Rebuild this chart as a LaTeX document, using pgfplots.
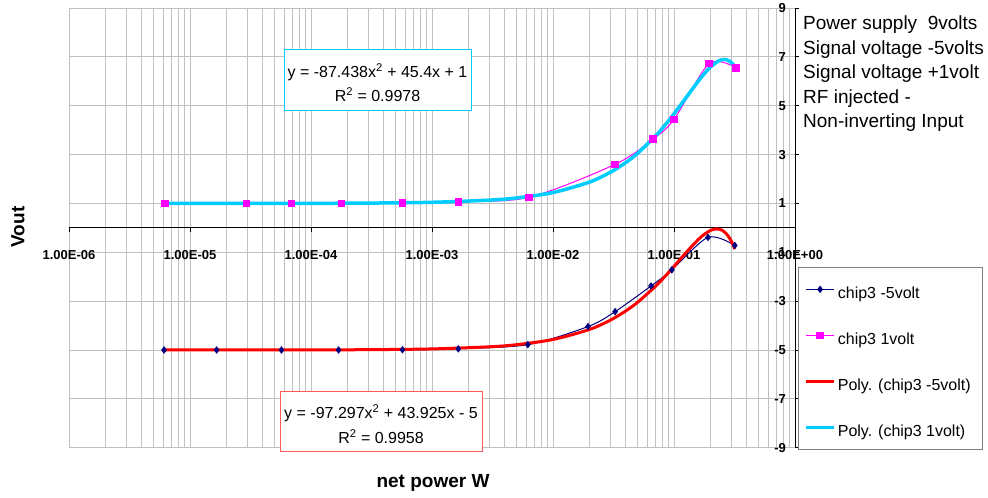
\documentclass[border=0pt]{standalone}
\usepackage{pgfplots}
\pgfplotsset{compat=1.18}
\usepackage{fontspec}
\setmainfont{Liberation Sans}
\definecolor{navyc}{RGB}{0,0,128}
\definecolor{magc}{RGB}{255,0,255}
\definecolor{cyanc}{RGB}{0,204,255}
\definecolor{gridc}{RGB}{192,192,192}
\definecolor{legc}{RGB}{128,128,128}
\definecolor{redbox}{RGB}{255,90,90}
\begin{document}
\begin{tikzpicture}
\useasboundingbox (-69pt,-50.3pt) rectangle (919pt,447.7pt);
\begin{axis}[
  at={(0pt,0pt)}, anchor=south west,
  scale only axis, width=726pt, height=439.7pt,
  xmode=log, xmin=1e-6, xmax=1, ymin=-9, ymax=9,
  axis x line=middle, axis y line=right,
  axis line style={-, black, line width=0.8pt},
  hide obscured x ticks=false, hide obscured y ticks=false,
  xtick={1e-6,1e-5,1e-4,1e-3,1e-2,1e-1,1},
  xticklabels={1.00E-06,1.00E-05,1.00E-04,1.00E-03,1.00E-02,1.00E-01,1.00E+00},
  minor xtick={2e-6,3e-6,4e-6,5e-6,6e-6,7e-6,8e-6,9e-6,
    2e-5,3e-5,4e-5,5e-5,6e-5,7e-5,8e-5,9e-5,
    2e-4,3e-4,4e-4,5e-4,6e-4,7e-4,8e-4,9e-4,
    2e-3,3e-3,4e-3,5e-3,6e-3,7e-3,8e-3,9e-3,
    2e-2,3e-2,4e-2,5e-2,6e-2,7e-2,8e-2,9e-2,
    2e-1,3e-1,4e-1,5e-1,6e-1,7e-1,8e-1,9e-1},
  ytick={-9,-7,-5,-3,-1,1,3,5,7,9},
  yticklabels={-9,-7,-5,-3,-1,1,3,5,7,9},
  xmajorgrids=true, xminorgrids=true, ymajorgrids=true,
  grid style={gridc, line width=0.8pt},
  major tick length=4.5pt, minor tick length=0pt,
  tick align=outside,
  tick style={black, line width=0.8pt},
  tick label style={font=\fontsize{13}{15}\selectfont\bfseries},
  xticklabel style={anchor=base, yshift=-27pt},
  yticklabel style={anchor=east, xshift=-10pt},
  clip=false,
  legend cell align=left,
  legend style={at={(rel axis cs:1.0041,0.411)}, anchor=north west,
    draw=legc, line width=0.8pt, fill=white,
    font=\fontsize{16}{19}\selectfont,
    inner xsep=6pt, inner ysep=9pt, row sep=20pt, column sep=0pt,
    nodes={inner xsep=2pt, inner ysep=0pt, text height=22pt, text depth=4pt}},
  legend image code/.code={\draw[mark repeat=2,mark phase=2] plot coordinates {(0pt,0pt) (14pt,0pt) (28pt,0pt)};},
]
\addplot[navyc, line width=1pt, smooth, mark=diamond*, mark size=3pt, mark options={solid, fill=navyc}] coordinates {
(6.1e-6,-5.0) (1.66e-5,-5.0) (5.7e-5,-5.0) (1.69e-4,-5.0) (5.7e-4,-4.99) (1.65e-3,-4.95) (6.2e-3,-4.78) (0.0195,-4.04) (0.0326,-3.43) (0.0646,-2.38) (0.096,-1.72) (0.191,-0.39) (0.318,-0.72)};
\addlegendentry{chip3 -5volt}
\addplot[magc, line width=1pt, smooth, mark=square*, mark size=3.3pt, mark options={solid, fill=magc}] coordinates {
(6.2e-6,1.00) (2.94e-5,1.00) (6.9e-5,1.00) (1.79e-4,1.00) (5.7e-4,1.01) (1.65e-3,1.07) (6.37e-3,1.25) (0.0326,2.6) (0.0671,3.63) (0.1,4.44) (0.195,6.72) (0.325,6.55)};
\addlegendentry{chip3 1volt}
\addplot[red, line width=3pt, smooth] coordinates {
(6.1e-6,-4.9997) (1e-5,-4.9996) (3e-5,-4.9987) (1e-4,-4.9956) (3e-4,-4.9868) (1e-3,-4.9562) (3e-3,-4.8691) (5e-3,-4.7828) (0.01,-4.5705) (0.02,-4.1604) (0.03,-3.7698) (0.04,-3.3987) (0.05,-3.0470) (0.07,-2.4020) (0.085,-1.9693) (0.1,-1.5805) (0.13,-0.9341) (0.16,-0.4628) (0.18,-0.2459) (0.2,-0.1069) (0.21,-0.0666) (0.225,-0.0426) (0.24,-0.0623) (0.25,-0.0998) (0.27,-0.2332) (0.29,-0.4444) (0.305,-0.6539) (0.318,-0.8708)};
\addlegendentry{Poly. (chip3 -5volt)\hspace*{4pt}}
\addplot[cyanc, line width=3.5pt, smooth] coordinates {
(6.2e-6,1.0003) (1e-5,1.0005) (3e-5,1.0014) (1e-4,1.0045) (3e-4,1.0136) (1e-3,1.0453) (3e-3,1.1354) (5e-3,1.2248) (0.01,1.4453) (0.02,1.8730) (0.03,2.2833) (0.04,2.6761) (0.05,3.0514) (0.07,3.7496) (0.085,4.2273) (0.1,4.6656) (0.13,5.4243) (0.16,6.0256) (0.18,6.339) (0.2,6.5825) (0.23,6.8165) (0.245,6.8745) (0.26,6.8932) (0.275,6.8725) (0.29,6.8125) (0.31,6.6712) (0.325,6.5193)};
\addlegendentry{Poly. (chip3 1volt)}
\end{axis}
% equation boxes
\draw[cyanc, line width=0.8pt, fill=white] (215pt,337.7pt) rectangle (402pt,398.7pt);
\node[anchor=base, inner sep=0pt, font=\fontsize{16}{19}\selectfont] at (308.5pt,370.4pt) {y = -87.438x\textsuperscript{2} + 45.4x + 1};
\node[anchor=base, inner sep=0pt, font=\fontsize{16}{19}\selectfont] at (308.5pt,346pt) {R\textsuperscript{2} = 0.9978};
\draw[redbox, line width=0.8pt, fill=white] (211pt,-3.3pt) rectangle (413pt,56pt);
\node[anchor=base, inner sep=0pt, font=\fontsize{16}{19}\selectfont] at (312pt,29.4pt) {y = -97.297x\textsuperscript{2} + 43.925x - 5};
\node[anchor=base, inner sep=0pt, font=\fontsize{16}{19}\selectfont] at (312pt,4.4pt) {R\textsuperscript{2} = 0.9958};
% notes
\begin{scope}[every node/.style={anchor=base west, inner sep=0pt, font=\fontsize{19}{23}\selectfont}]
\node at (734pt,418.2pt) {Power supply\ \ 9volts};
\node at (734pt,393.6pt) {Signal voltage -5volts};
\node at (734pt,369pt) {Signal voltage +1volt};
\node at (734pt,344.4pt) {RF injected -};
\node at (734pt,319.8pt) {Non-inverting Input};
\end{scope}
% axis titles
\node[rotate=90, inner sep=0pt, font=\fontsize{19}{23}\selectfont\bfseries] at (-51pt,220.7pt) {Vout};
\node[anchor=base, inner sep=0pt, font=\fontsize{19}{23}\selectfont\bfseries] at (364pt,-39.6pt) {net power W};
\end{tikzpicture}
\end{document}
